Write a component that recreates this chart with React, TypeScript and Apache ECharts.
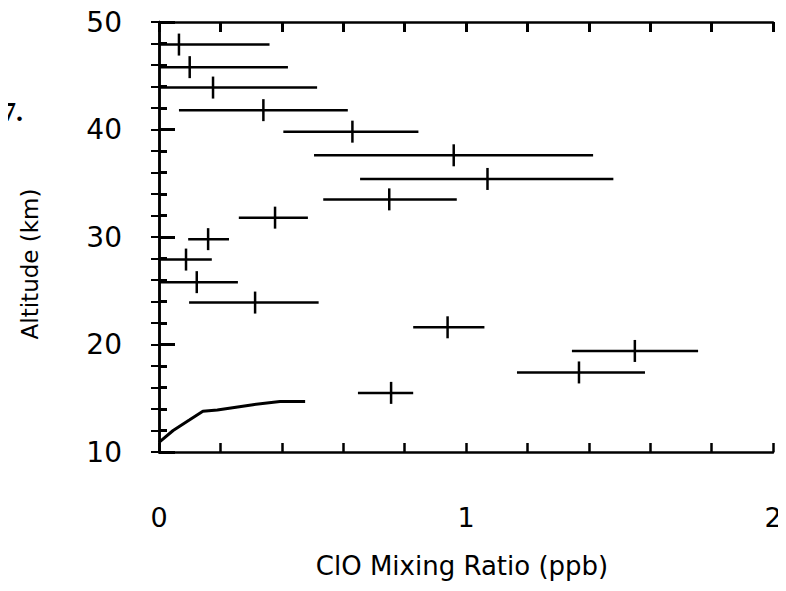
import React, { useEffect, useRef } from "react";
import * as echarts from "echarts";

// ClO measurements: altitude (km), mixing ratio centre and error-bar extent (ppb)
const altitudes = [47.9, 45.8, 43.9, 41.8, 39.8, 37.6, 35.4, 33.5, 31.8, 29.8, 27.9, 25.8, 23.9, 21.6, 19.4, 17.4, 15.5];
const centers = [0.065, 0.10, 0.176, 0.34, 0.63, 0.96, 1.07, 0.75, 0.378, 0.16, 0.088, 0.123, 0.313, 0.94, 1.55, 1.368, 0.756];
const lows = [0, 0, 0, 0.065, 0.405, 0.505, 0.655, 0.535, 0.26, 0.095, 0, 0, 0.098, 0.828, 1.345, 1.166, 0.648];
const highs = [0.36, 0.42, 0.515, 0.615, 0.845, 1.414, 1.48, 0.97, 0.485, 0.228, 0.172, 0.257, 0.52, 1.06, 1.756, 1.583, 0.828];

// lower profile curve
const curveX = [0, 0.046, 0.10, 0.143, 0.19, 0.306, 0.394, 0.476];
const curveY = [10.9, 12.0, 13.0, 13.8, 13.9, 14.4, 14.7, 14.7];

const xTickLabels = [0, 1, 2];
const yTickLabels = [10, 20, 30, 40, 50];

const FONT = "DejaVu Sans";

export default function App() {
  const ref = useRef<HTMLDivElement>(null);
  useEffect(() => {
    if (!ref.current) return;
    const chart = echarts.init(ref.current, null, { renderer: "svg" });
    const errData = altitudes.map((a, i) => [centers[i], a, lows[i], highs[i]]);
    const isLabel = (v: number, list: number[]) => list.some((t) => Math.abs(t - v) < 1e-6);
    const axisLine = { show: true, lineStyle: { color: "#000", width: 2.5 } };
    chart.setOption({
      animation: false,
      backgroundColor: "#fff",
      grid: { left: 159, right: 13, top: 22, bottom: 139, containLabel: false },
      xAxis: [
        {
          type: "value",
          min: 0,
          max: 2,
          interval: 1,
          position: "bottom",
          axisLine,
          splitLine: { show: false },
          axisTick: { show: true, inside: true, length: 9, lineStyle: { color: "#000", width: 2.5 } },
          minorTick: { show: true, splitNumber: 5, length: 9, lineStyle: { color: "#000", width: 2.5 } },
          axisLabel: {
            margin: 52,
            color: "#000",
            fontFamily: FONT,
            fontSize: 27,
            formatter: (v: number) => (isLabel(v, xTickLabels) ? String(Math.round(v)) : ""),
          },
        },
        {
          type: "value",
          min: 0,
          max: 2,
          interval: 1,
          position: "top",
          axisLine,
          splitLine: { show: false },
          axisTick: { show: true, inside: true, length: 10, lineStyle: { color: "#000", width: 3 } },
          minorTick: { show: true, splitNumber: 5, length: 10, lineStyle: { color: "#000", width: 3 } },
          axisLabel: { show: false },
        },
      ],
      yAxis: [
        {
          type: "value",
          min: 10,
          max: 50,
          interval: 10,
          position: "left",
          axisLine,
          splitLine: { show: false },
          axisTick: { show: true, inside: true, length: 16, lineStyle: { color: "#000", width: 3 } },
          minorTick: { show: true, splitNumber: 5, length: 8, lineStyle: { color: "#000", width: 3 } },
          axisLabel: {
            margin: 37,
            color: "#000",
            fontFamily: FONT,
            fontSize: 28,
            formatter: (v: number) => (isLabel(v, yTickLabels) ? String(Math.round(v)) : ""),
          },
        },
        {
          type: "value",
          min: 10,
          max: 50,
          interval: 10,
          position: "right",
          axisLine,
          splitLine: { show: false },
          axisTick: { show: true, inside: true, length: 8, lineStyle: { color: "#000", width: 2 } },
          minorTick: { show: true, splitNumber: 5, length: 8, lineStyle: { color: "#000", width: 2 } },
          axisLabel: { show: false },
        },
      ],
      graphic: [
        {
          type: "text",
          x: 2,
          y: 111,
          style: {
            text: "7.",
            fontFamily: "Liberation Serif",
            fontSize: 28,
            fontWeight: "bold",
            fill: "#000",
            align: "left",
            verticalAlign: "middle",
          },
        },
        {
          type: "text",
          x: 462,
          y: 566,
          style: {
            text: "ClO Mixing Ratio (ppb)",
            fontFamily: FONT,
            fontSize: 26,
            fill: "#000",
            align: "center",
            verticalAlign: "middle",
          },
        },
        {
          type: "text",
          x: 30,
          y: 264,
          rotation: Math.PI / 2,
          style: {
            text: "Altitude (km)",
            fontFamily: FONT,
            fontSize: 23,
            fill: "#000",
            align: "center",
            verticalAlign: "middle",
          },
        },
      ],
      series: [
        {
          type: "custom",
          xAxisIndex: 0,
          yAxisIndex: 0,
          data: errData,
          encode: { x: [0, 2, 3], y: 1 },
          renderItem: (params: any, api: any) => {
            const c = api.coord([api.value(0), api.value(1)]);
            const l = api.coord([api.value(2), api.value(1)]);
            const h = api.coord([api.value(3), api.value(1)]);
            return {
              type: "group",
              children: [
                {
                  type: "line",
                  shape: { x1: l[0], y1: l[1], x2: h[0], y2: h[1] },
                  style: { stroke: "#000", lineWidth: 2.5 },
                },
                {
                  type: "line",
                  shape: { x1: c[0], y1: c[1] - 11, x2: c[0], y2: c[1] + 11 },
                  style: { stroke: "#000", lineWidth: 2.5 },
                },
              ],
            };
          },
        },
        {
          type: "line",
          xAxisIndex: 0,
          yAxisIndex: 0,
          data: curveX.map((x, i) => [x, curveY[i]]),
          showSymbol: false,
          symbol: "none",
          lineStyle: { color: "#000", width: 3 },
        },
      ],
    });
    return () => chart.dispose();
  }, []);
  return <div ref={ref} style={{ width: 786, height: 591, margin: -8 }} />;
}
